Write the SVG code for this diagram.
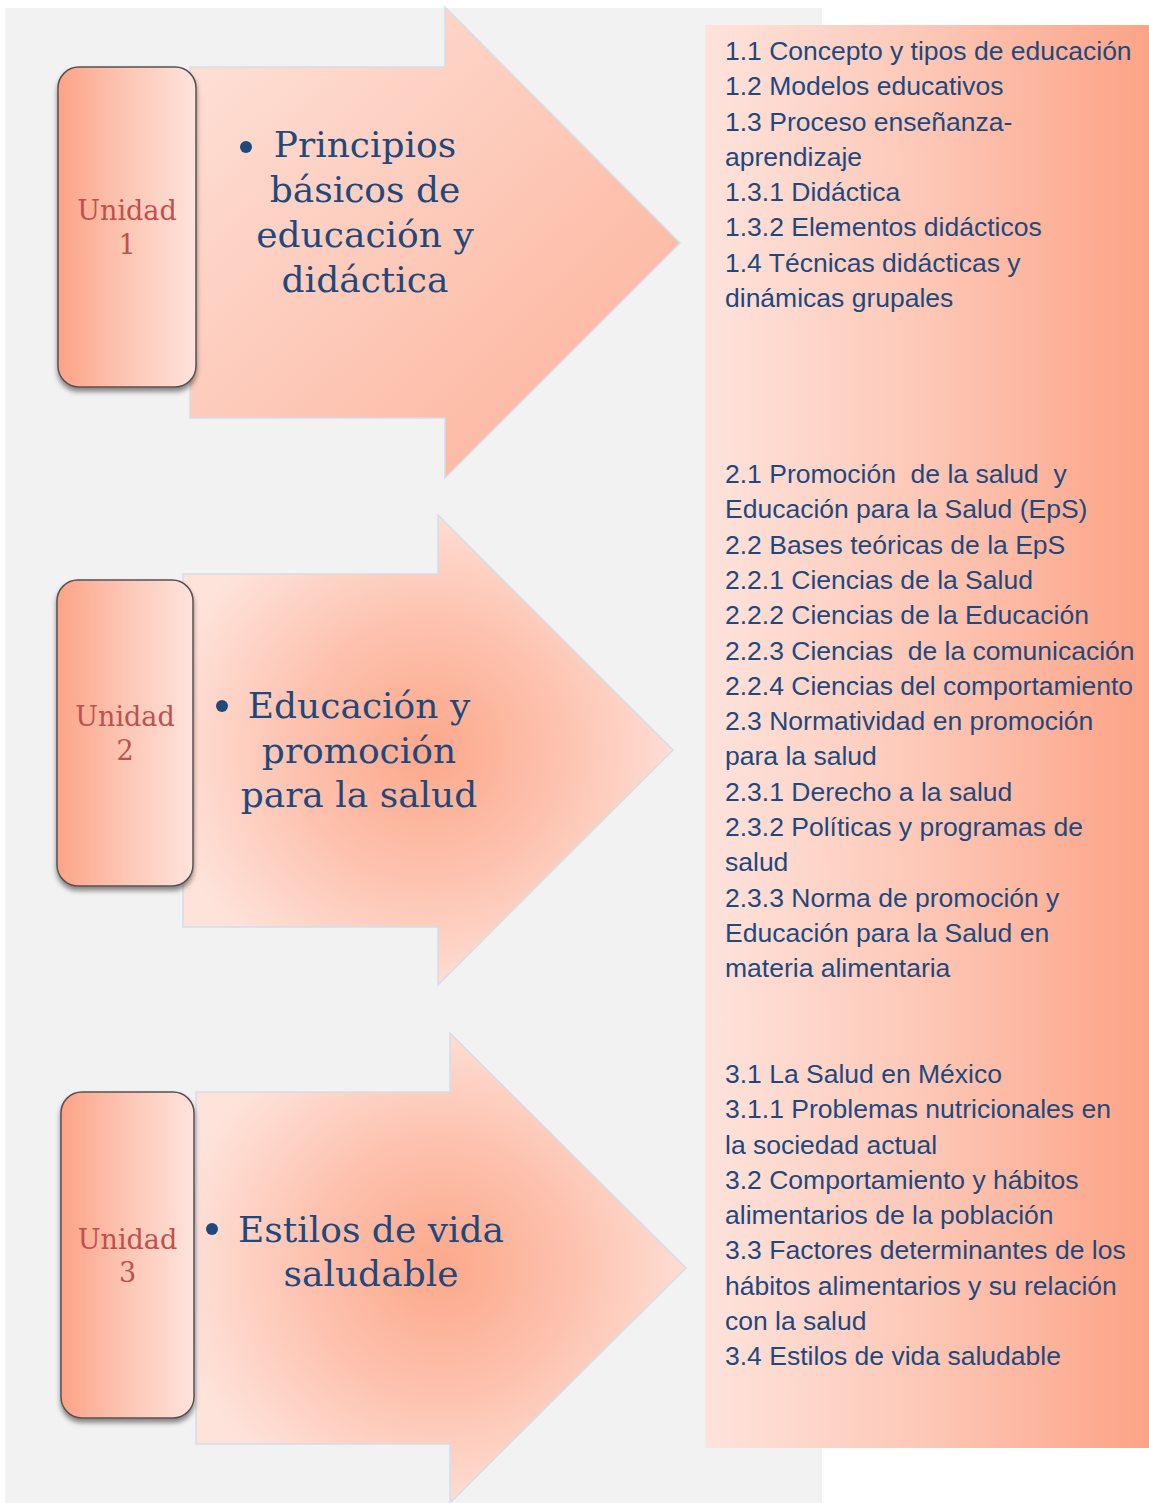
<svg xmlns="http://www.w3.org/2000/svg" width="1149" height="1503" viewBox="0 0 1149 1503">
<defs>
<linearGradient id="gPanel" x1="0" y1="0" x2="1" y2="0">
<stop offset="0" stop-color="#FEE3DC"/>
<stop offset="0.5" stop-color="#FDC7B6"/>
<stop offset="1" stop-color="#FCA386"/>
</linearGradient>
<linearGradient id="gBox" x1="0" y1="0" x2="1" y2="0">
<stop offset="0" stop-color="#FCA386"/>
<stop offset="0.5" stop-color="#FDC6B5"/>
<stop offset="1" stop-color="#FEE3DC"/>
</linearGradient>
<linearGradient id="gArrow1" x1="0" y1="0" x2="1" y2="1">
<stop offset="0" stop-color="#FEE2DA"/>
<stop offset="1" stop-color="#FCAF95"/>
</linearGradient>
<radialGradient id="gArrowR" cx="0.5" cy="0.5" r="0.55">
<stop offset="0" stop-color="#FCA88A"/>
<stop offset="0.5" stop-color="#FDC2AF"/>
<stop offset="1" stop-color="#FEE3DB"/>
</radialGradient>
<filter id="shadow" x="-20%" y="-10%" width="140%" height="125%">
<feDropShadow dx="0" dy="4" stdDeviation="2.5" flood-color="#000" flood-opacity="0.45"/>
</filter>
</defs>
<style>
.arrow{stroke:#D5DCEA;stroke-width:1.5}
.box{fill:url(#gBox);stroke:#5A5050;stroke-width:1.5;filter:url(#shadow)}
.unit{font-family:"DejaVu Serif","Liberation Serif",serif;font-size:27px;fill:#C0504D;text-anchor:middle}
.title{font-family:"DejaVu Serif","Liberation Serif",serif;font-size:36px;fill:#1F497D;text-anchor:middle}
.bullet{fill:#1F497D}
.item{font-family:"Liberation Sans",Arial,sans-serif;font-size:26.5px;fill:#1F497D;white-space:pre}
</style>
<rect x="5" y="8" width="817" height="1495" fill="#F2F2F2"/>
<g id="panel">
<rect x="705" y="25" width="444" height="1423" fill="url(#gPanel)"/>
<text class="item" xml:space="preserve">
<tspan x="725" y="60">1.1 Concepto y tipos de educación</tspan>
<tspan x="725" y="95.25">1.2 Modelos educativos</tspan>
<tspan x="725" y="130.5">1.3 Proceso enseñanza-</tspan>
<tspan x="725" y="165.75">aprendizaje</tspan>
<tspan x="725" y="201">1.3.1 Didáctica</tspan>
<tspan x="725" y="236.25">1.3.2 Elementos didácticos</tspan>
<tspan x="725" y="271.5">1.4 Técnicas didácticas y</tspan>
<tspan x="725" y="306.75">dinámicas grupales</tspan>
</text>
<text class="item" xml:space="preserve">
<tspan x="725" y="483">2.1 Promoción  de la salud  y</tspan>
<tspan x="725" y="518.3">Educación para la Salud (EpS)</tspan>
<tspan x="725" y="553.6">2.2 Bases teóricas de la EpS</tspan>
<tspan x="725" y="588.9">2.2.1 Ciencias de la Salud</tspan>
<tspan x="725" y="624.2">2.2.2 Ciencias de la Educación</tspan>
<tspan x="725" y="659.5">2.2.3 Ciencias  de la comunicación</tspan>
<tspan x="725" y="694.8">2.2.4 Ciencias del comportamiento</tspan>
<tspan x="725" y="730.1">2.3 Normatividad en promoción</tspan>
<tspan x="725" y="765.4">para la salud</tspan>
<tspan x="725" y="800.7">2.3.1 Derecho a la salud</tspan>
<tspan x="725" y="836">2.3.2 Políticas y programas de</tspan>
<tspan x="725" y="871.3">salud</tspan>
<tspan x="725" y="906.6">2.3.3 Norma de promoción y</tspan>
<tspan x="725" y="941.9">Educación para la Salud en</tspan>
<tspan x="725" y="977.2">materia alimentaria</tspan>
</text>
<text class="item" xml:space="preserve">
<tspan x="725" y="1083">3.1 La Salud en México</tspan>
<tspan x="725" y="1118.25">3.1.1 Problemas nutricionales en</tspan>
<tspan x="725" y="1153.5">la sociedad actual</tspan>
<tspan x="725" y="1188.75">3.2 Comportamiento y hábitos</tspan>
<tspan x="725" y="1224">alimentarios de la población</tspan>
<tspan x="725" y="1259.25">3.3 Factores determinantes de los</tspan>
<tspan x="725" y="1294.5">hábitos alimentarios y su relación</tspan>
<tspan x="725" y="1329.75">con la salud</tspan>
<tspan x="725" y="1365">3.4 Estilos de vida saludable</tspan>
</text>
</g>
<g id="arrow1">
<path class="arrow" fill="url(#gArrow1)" d="M190,67 L445,67 L445,7 L680,243 L445,478 L445,418 L190,418 Z"/>
<circle class="bullet" cx="246" cy="147" r="6"/>
<text class="title"><tspan x="365" y="157">Principios</tspan><tspan x="365" y="202">básicos de</tspan><tspan x="365" y="247">educación y</tspan><tspan x="365" y="292">didáctica</tspan></text>
</g>
<g id="arrow2">
<path class="arrow" fill="url(#gArrowR)" d="M183,574 L438,574 L438,515 L673,750 L438,985 L438,927 L183,927 Z"/>
<circle class="bullet" cx="222" cy="706" r="6"/>
<text class="title"><tspan x="359" y="718">Educación y</tspan><tspan x="359" y="763">promoción</tspan><tspan x="359" y="807">para la salud</tspan></text>
</g>
<g id="arrow3">
<path class="arrow" fill="url(#gArrowR)" d="M196,1092 L450,1092 L450,1033 L686,1268 L450,1503 L450,1444 L196,1444 Z"/>
<circle class="bullet" cx="212" cy="1229" r="6"/>
<text class="title"><tspan x="371" y="1242">Estilos de vida</tspan><tspan x="371" y="1286">saludable</tspan></text>
</g>
<g id="unidad1">
<rect class="box" x="58" y="67" width="138" height="320" rx="21"/>
<text class="unit"><tspan x="127" y="220">Unidad</tspan><tspan x="127" y="254">1</tspan></text>
</g>
<g id="unidad2">
<rect class="box" x="57" y="580" width="136" height="306" rx="21"/>
<text class="unit"><tspan x="125" y="726">Unidad</tspan><tspan x="125" y="760">2</tspan></text>
</g>
<g id="unidad3">
<rect class="box" x="61" y="1092" width="133" height="326" rx="21"/>
<text class="unit"><tspan x="127.5" y="1249">Unidad</tspan><tspan x="127.5" y="1282">3</tspan></text>
</g>
<g id="connectors"/>
</svg>
